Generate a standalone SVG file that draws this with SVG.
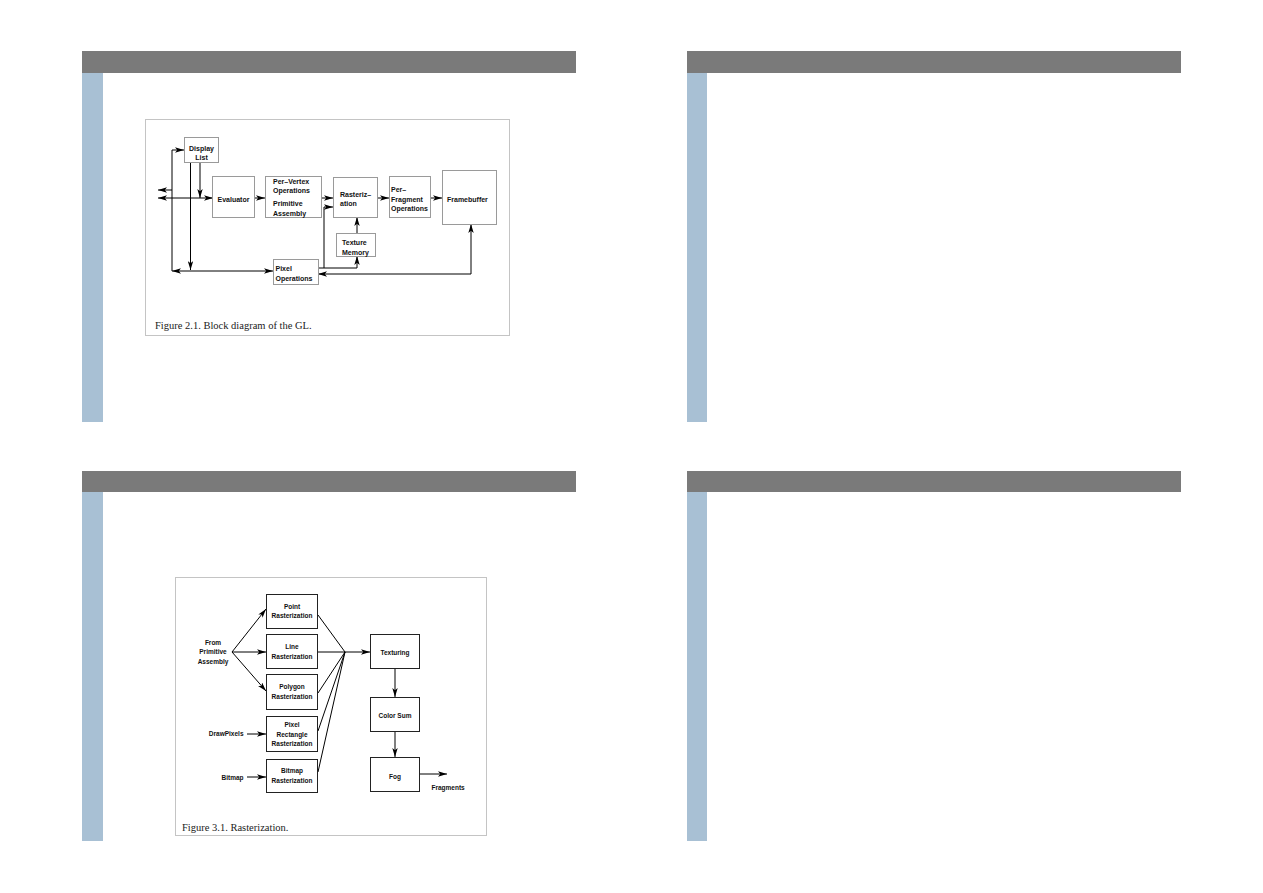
<svg xmlns="http://www.w3.org/2000/svg" width="1263" height="893" viewBox="0 0 1263 893">
<style>
.hdr{fill:#7a7a7a}
.side{fill:#a8c0d4}
.frame{fill:#fff;stroke:#c4c4c4;stroke-width:1}
.b1{fill:#fff;stroke:#9a9a9a;stroke-width:1}
.b3{fill:#fff;stroke:#222;stroke-width:1}
.ln{fill:none;stroke:#000;stroke-width:1}
.t{font-family:"Liberation Sans",Arial,sans-serif;font-weight:bold;font-size:7px;fill:#111}
.t3{font-family:"Liberation Sans",Arial,sans-serif;font-weight:bold;font-size:6.5px;fill:#111}
.cap{font-family:"Liberation Serif","Times New Roman",serif;font-size:10.5px;fill:#222}
</style>
<defs>
<marker id="ah" viewBox="0 0 10 6" refX="10" refY="3" markerWidth="9" markerHeight="5.4" markerUnits="userSpaceOnUse" orient="auto-start-reverse">
<path d="M0,0 L10,3 L0,6 L2.5,3 z" fill="#000"/>
</marker>
</defs>
<rect width="1263" height="893" fill="#fff"/>
<g id="slides">
<rect class="hdr" x="82" y="51" width="494" height="22"/>
<rect class="side" x="82" y="73" width="21" height="349"/>
<rect class="hdr" x="687" y="51" width="494" height="22"/>
<rect class="side" x="687" y="73" width="20" height="349"/>
<rect class="hdr" x="82" y="471" width="494" height="21"/>
<rect class="side" x="82" y="492" width="21" height="349"/>
<rect class="hdr" x="687" y="471" width="494" height="21"/>
<rect class="side" x="687" y="492" width="20" height="349"/>
</g>
<g id="figure21">
<rect class="frame" x="145.5" y="119.5" width="364" height="216"/>
<g id="connectors21">
<path class="ln" d="M172,271 L172,150 L184,150" marker-end="url(#ah)"/>
<path class="ln" d="M172,190 L158,190" marker-end="url(#ah)"/>
<path class="ln" d="M158,198 L213,198" marker-start="url(#ah)" marker-end="url(#ah)"/>
<path class="ln" d="M190.5,163 L190.5,270" marker-end="url(#ah)"/>
<path class="ln" d="M200,163 L200,198" marker-end="url(#ah)"/>
<path class="ln" d="M172,271 L273,271" marker-start="url(#ah)" marker-end="url(#ah)"/>
<path class="ln" d="M255,198 L265,198" marker-end="url(#ah)"/>
<path class="ln" d="M322,198 L333,198" marker-end="url(#ah)"/>
<path class="ln" d="M318,268 L357,268 L357,256" marker-end="url(#ah)"/>
<path class="ln" d="M324,268 L324,207 L333,207" marker-end="url(#ah)"/>
<path class="ln" d="M357,233 L357,217" marker-end="url(#ah)"/>
<path class="ln" d="M378,198 L389,198" marker-end="url(#ah)"/>
<path class="ln" d="M430,198 L442,198" marker-end="url(#ah)"/>
<path class="ln" d="M318,274 L471,274 L471,224" marker-start="url(#ah)" marker-end="url(#ah)"/>
</g>
<g id="displaylist"><rect class="b1" x="184.5" y="137.5" width="34" height="25"/>
<text class="t" x="201.5" y="150.5" text-anchor="middle">Display</text><text class="t" x="201.5" y="160" text-anchor="middle">List</text></g>
<g id="evaluator"><rect class="b1" x="212.5" y="176.5" width="42" height="41"/>
<text class="t" x="233.5" y="201.5" text-anchor="middle">Evaluator</text></g>
<g id="pervertex"><rect class="b1" x="265.5" y="176.5" width="56" height="41"/>
<text class="t" x="273" y="184">Per–Vertex</text><text class="t" x="273" y="193.3">Operations</text>
<text class="t" x="273" y="206">Primitive</text><text class="t" x="273" y="215.5">Assembly</text></g>
<g id="rasterization"><rect class="b1" x="333.5" y="177.5" width="44" height="40"/>
<text class="t" x="340" y="196.5">Rasteriz–</text><text class="t" x="340" y="206">ation</text></g>
<g id="perfragment"><rect class="b1" x="389.5" y="176.5" width="41" height="41"/>
<text class="t" x="391" y="192">Per–</text><text class="t" x="391" y="201.5">Fragment</text><text class="t" x="391" y="211">Operations</text></g>
<g id="framebuffer"><rect class="b1" x="442.5" y="170.5" width="54" height="54"/>
<text class="t" x="447" y="202">Framebuffer</text></g>
<g id="texturememory"><rect class="b1" x="336.5" y="233.5" width="39" height="23"/>
<text class="t" x="342" y="245">Texture</text><text class="t" x="342" y="254.5">Memory</text></g>
<g id="pixelops"><rect class="b1" x="273.5" y="259.5" width="45" height="25"/>
<text class="t" x="275.5" y="270.8">Pixel</text><text class="t" x="275.5" y="281">Operations</text></g>
<text class="cap" x="155" y="329">Figure 2.1. Block diagram of the GL.</text>
</g>
<g id="figure31">
<rect class="frame" x="175.5" y="577.5" width="311" height="258"/>
<g id="connectors31">
<path class="ln" d="M232,652 L266,609" marker-end="url(#ah)"/>
<path class="ln" d="M232,652 L266,652" marker-end="url(#ah)"/>
<path class="ln" d="M232,652 L266,691" marker-end="url(#ah)"/>
<path class="ln" d="M247,734 L266,734" marker-end="url(#ah)"/>
<path class="ln" d="M247,777 L266,777" marker-end="url(#ah)"/>
<path class="ln" d="M318,615 L345,652"/>
<path class="ln" d="M318,652 L370,652" marker-end="url(#ah)"/>
<path class="ln" d="M318,693 L345,652"/>
<path class="ln" d="M318,731 L345,652"/>
<path class="ln" d="M318,772 L345,652"/>
<path class="ln" d="M395,668 L395,697" marker-end="url(#ah)"/>
<path class="ln" d="M395,731 L395,757" marker-end="url(#ah)"/>
<path class="ln" d="M420,774 L447,774" marker-end="url(#ah)"/>
</g>
<g id="from"><text class="t3" x="213" y="645" text-anchor="middle">From</text><text class="t3" x="213" y="654.3" text-anchor="middle">Primitive</text><text class="t3" x="213" y="663.6" text-anchor="middle">Assembly</text></g>
<g id="drawpixels"><text class="t3" x="243.5" y="736.3" text-anchor="end">DrawPixels</text></g>
<g id="bitmapin"><text class="t3" x="243.5" y="779.6" text-anchor="end">Bitmap</text></g>
<g id="pointr"><rect class="b3" x="266.5" y="594.5" width="51" height="34"/>
<text class="t3" x="292" y="609.3" text-anchor="middle">Point</text><text class="t3" x="292" y="618.3" text-anchor="middle">Rasterization</text></g>
<g id="liner"><rect class="b3" x="266.5" y="634.5" width="51" height="34"/>
<text class="t3" x="292" y="649.3" text-anchor="middle">Line</text><text class="t3" x="292" y="659" text-anchor="middle">Rasterization</text></g>
<g id="polygonr"><rect class="b3" x="266.5" y="674.5" width="51" height="35"/>
<text class="t3" x="292" y="689.3" text-anchor="middle">Polygon</text><text class="t3" x="292" y="699" text-anchor="middle">Rasterization</text></g>
<g id="pixelrectr"><rect class="b3" x="266.5" y="716.5" width="51" height="35"/>
<text class="t3" x="292" y="727.3" text-anchor="middle">Pixel</text><text class="t3" x="292" y="736.6" text-anchor="middle">Rectangle</text><text class="t3" x="292" y="746.3" text-anchor="middle">Rasterization</text></g>
<g id="bitmapr"><rect class="b3" x="266.5" y="759.5" width="51" height="33"/>
<text class="t3" x="292" y="773.3" text-anchor="middle">Bitmap</text><text class="t3" x="292" y="783" text-anchor="middle">Rasterization</text></g>
<g id="texturing"><rect class="b3" x="370.5" y="634.5" width="49" height="34"/>
<text class="t3" x="395" y="655" text-anchor="middle">Texturing</text></g>
<g id="colorsum"><rect class="b3" x="370.5" y="697.5" width="49" height="34"/>
<text class="t3" x="395" y="718" text-anchor="middle">Color Sum</text></g>
<g id="fog"><rect class="b3" x="370.5" y="757.5" width="49" height="34"/>
<text class="t3" x="395" y="779" text-anchor="middle">Fog</text></g>
<text class="t3" x="431.5" y="790">Fragments</text>
<text class="cap" x="182" y="831">Figure 3.1. Rasterization.</text>
</g>
</svg>
